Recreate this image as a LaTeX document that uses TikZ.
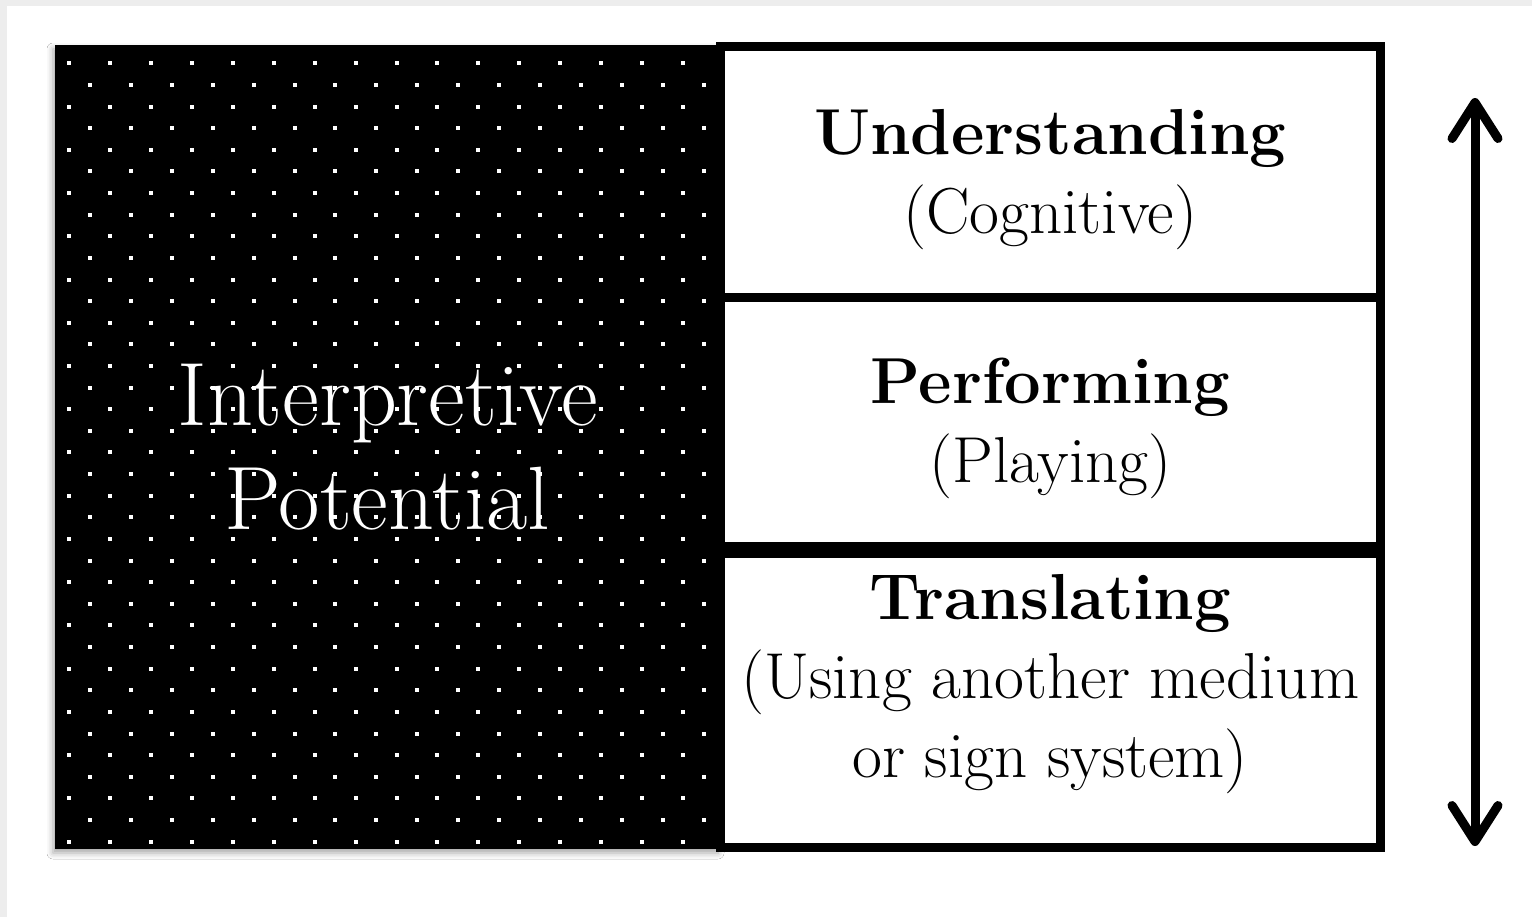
\documentclass[tikz,border=0pt]{standalone}
\usepackage{fontspec}
\usetikzlibrary{arrows.meta,shadows.blur}
\begin{document}
\begin{tikzpicture}
[x=0.5pt,y=-0.5pt,
 level/.style={draw,line width=4.5pt,fill=white,minimum width=330.25pt,inner sep=0pt},
 leveltext/.style={align=center,inner sep=0pt,font=\fontsize{32.5}{39.5}\selectfont},
 pindot/.style={fill=white}]
   \fill[black!7] (0,0) rectangle (1532,917);
   \fill[white] (7,6) rectangle (1532,917);
   \useasboundingbox (0,0) rectangle (1532,917);
   \node (potential) at (387.5,447) [fill=black,minimum width=332.5pt,minimum height=402pt,inner sep=0pt,
     blur shadow={shadow xshift=-1pt,shadow yshift=-2pt,shadow blur radius=3pt,shadow opacity=35}] {};
   \foreach \j in {0,...,18}
     \foreach \k in {0,...,15}
       \fill[pindot] ({69.3+40.9*\k-2},{63.3+43.24*\j-2}) rectangle ++(4,4);
   \foreach \j in {0,...,17}
     \foreach \k in {0,...,15}
       \fill[pindot] ({90+40.9*\k-2},{84.9+43.24*\j-2}) rectangle ++(4,4);
   \node (potentialtext) at (potential) [text=white,align=center,font=\fontsize{45}{52}\selectfont]
     {Interpretive\\Potential};
   \node (understand) at (1050.25,172) [level,minimum height=125.5pt] {};
   \node (perform) at (1050.25,421.75) [level,minimum height=124.25pt] {};
   \node (translate) at (1050.25,700) [level,minimum height=147pt] {};
   \node (understandtext) at (1050.25,180) [leveltext] {\textbf{Understanding}\\(Cognitive)};
   \node (performtext) at (1050.25,428) [leveltext] {\textbf{Performing}\\(Playing)};
   \node (translatetext) at (1050.25,684) [leveltext] {\textbf{Translating}\\(Using another medium\\or sign system)};
   \coordinate (up) at (1475,98);
   \coordinate (down) at (1475,846);
   \draw[{Straight Barb[length=18pt,width=23pt,line cap=round,line join=round]}-{Straight Barb[length=18pt,width=23pt,line cap=round,line join=round]},line width=4.5pt]
     (down) -- (up);
\end{tikzpicture}
\end{document}
